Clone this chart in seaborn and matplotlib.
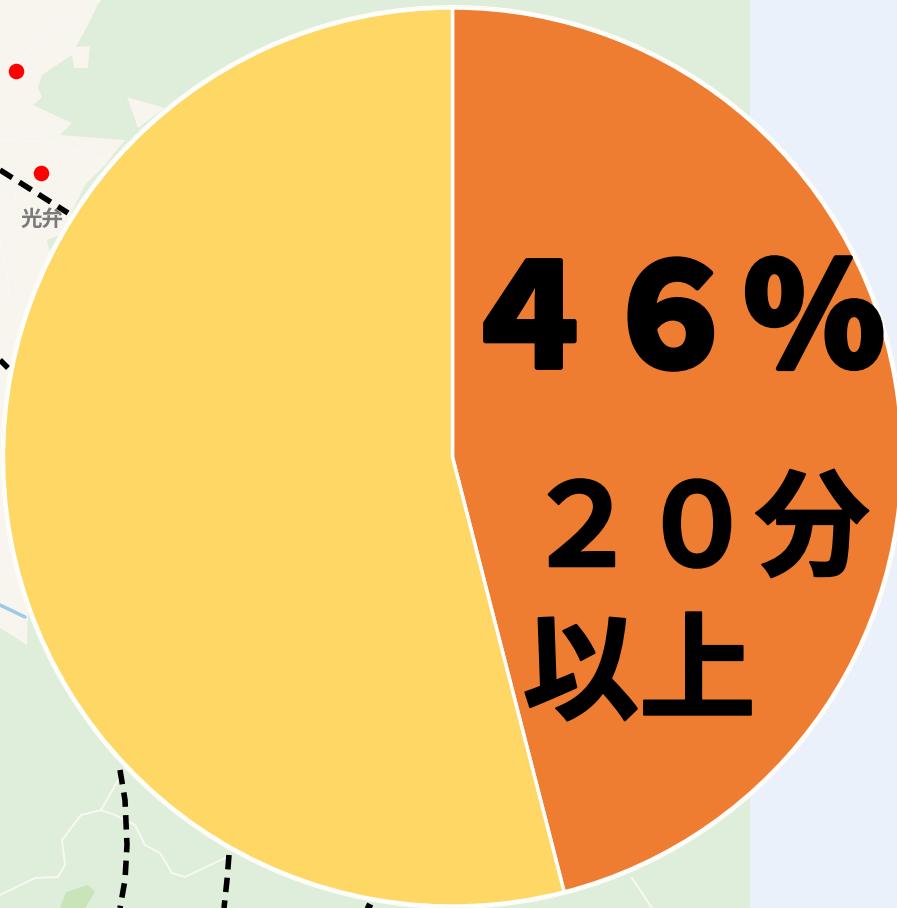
import matplotlib
matplotlib.use("Agg")
import matplotlib.pyplot as plt
import matplotlib.patheffects as pe
from matplotlib.patches import Polygon, Rectangle, Circle
import seaborn as sns
import pandas as pd

sns.set_theme(style="white")
plt.rcParams['font.family'] = ['Noto Sans CJK JP', 'DejaVu Sans']

# chart data
categories = ["20分以上", "20分未満"]
shares = [46, 54]
slice_colors = ["#EE7D31", "#FFD764"]
big_label = "４６％"
sub_label_1 = "２０分"
sub_label_2 = "以上"
place_label = "光弁"

# backdrop map geometry, in reference pixels
GREEN, BEIGE, SEA = "#DFEDDB", "#F8F4EE", "#EAF1FA"
beige_area = [(0, 0), (100, 0), (88, 25), (76, 47), (90, 46), (88, 68), (74, 68), (72, 55), (42, 75),
              (38, 88), (42, 97), (33, 105), (72, 123), (60, 135), (125, 140), (105, 165), (85, 185),
              (60, 235), (47, 240), (60, 300), (30, 560), (27, 645), (0, 628), (0, 0)]
beige_patch = [(127, 97), (165, 108), (138, 128)]
roads = [([0, 30, 100], [82, 50, 0]),
         ([0, 50, 105], [140, 142, 160]),
         ([0, 13, 16, 0], [170, 185, 197, 232]),
         ([0, 8, 10], [240, 280, 300]),
         ([120, 101, 81, 62, 65, 58, 35, 0], [777, 810, 815, 840, 865, 877, 878, 895]),
         ([101, 115, 135, 145, 160, 172, 185, 225], [810, 815, 825, 845, 853, 873, 877, 858]),
         ([632, 652], [878, 908])]
river = ([0, 25], [605, 617])
track_1 = ([0, 68], [170, 213])
track_2 = ([0, 8], [360, 368])
track_3 = ([120, 125, 127, 125, 120], [770, 800, 845, 880, 908])
track_4 = ([229, 227, 224], [855, 880, 908])
track_5 = ([366, 372], [905, 908])
stop_x = [16, 41]
stop_y = [71, 173]

W, H = 897, 908
CX, CY, R = 452.5, 457, 449

fig = plt.figure(figsize=(W / 100, H / 100), dpi=100)
bg = fig.add_axes([0, 0, 1, 1])
bg.set_xlim(0, W)
bg.set_ylim(H, 0)
bg.axis("off")
bg.add_patch(Rectangle((0, 0), 750, H, color=GREEN, lw=0))
bg.add_patch(Rectangle((750, 0), W - 750, H, color=SEA, lw=0))
bg.add_patch(Polygon(beige_area, color=BEIGE, lw=0))
bg.add_patch(Polygon(beige_patch, color=BEIGE, lw=0))
bg.add_patch(Polygon([(60, 908), (66, 892), (88, 885), (95, 892), (85, 908)], color="#C8E4B8", lw=0))
for xs, ys in roads:
    bg.plot(xs, ys, color="#F7F8F2", lw=1.5)
bg.plot(*river, color="#9CCBE8", lw=2.5)
for xs, ys in [track_1, track_2, track_3, track_4, track_5]:
    bg.plot(xs, ys, color="black", lw=4, dashes=(2.6, 1.5))
sns.scatterplot(x=stop_x, y=stop_y, ax=bg, color="#FF0000", s=125, linewidth=0, zorder=3)
bg.text(42, 219, place_label, color="#7A7A7A", fontsize=15.5, ha="center", va="center", fontweight="bold")
bg.add_patch(Circle((CX, CY), R + 3, color="white", lw=0, zorder=4))
bg.add_patch(Circle((CX, CY), R + 1.5, fill=False, ec="#FFE9B0", lw=0.5, zorder=4))

# pie
pie_ax = fig.add_axes([(CX - R) / W, 1 - (CY + R) / H, 2 * R / W, 2 * R / H])
pie_ax.patch.set_alpha(0)
table = pd.DataFrame({"category": categories, "share": shares})
pie_ax.pie(table["share"], colors=slice_colors, startangle=90, counterclock=False, radius=1,
           wedgeprops=dict(edgecolor="white", linewidth=2.5))
pie_ax.set_xlim(-1, 1)
pie_ax.set_ylim(-1, 1)

# labels, in reference pixels on an overlay
top = fig.add_axes([0, 0, 1, 1])
top.set_xlim(0, W)
top.set_ylim(H, 0)
top.axis("off")
top.patch.set_alpha(0)
thick = [pe.withStroke(linewidth=3.5, foreground="black")]
thin = [pe.withStroke(linewidth=1.5, foreground="black")]
top.text(671, 325, big_label, fontsize=103, fontweight="black", color="black", ha="center", va="center", path_effects=thick)
top.text(697, 533, sub_label_1, fontsize=83, fontweight="bold", color="black", ha="center", va="center", path_effects=thin)
top.text(639, 676, sub_label_2, fontsize=84, fontweight="bold", color="black", ha="center", va="center", path_effects=thin)

fig.savefig("out.png", dpi=100)
